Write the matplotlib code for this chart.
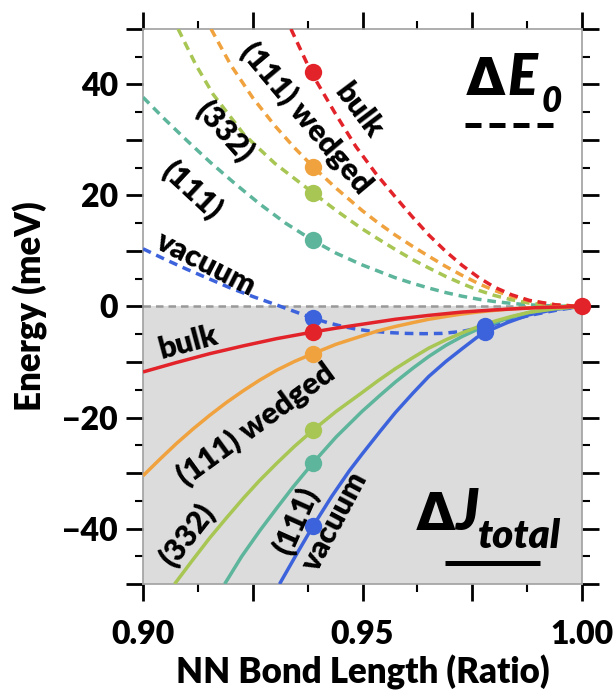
import numpy as np
import matplotlib
matplotlib.use("Agg")
import matplotlib.pyplot as plt
from matplotlib.ticker import FixedLocator, MultipleLocator, FuncFormatter

plt.rcParams['font.family'] = ['Lato', 'DejaVu Sans']
plt.rcParams['font.weight'] = 'heavy'

W = 'heavy'

# colours per surface
colors = {
    'bulk': '#e3232a',
    'wedged': '#f0a23f',
    '332': '#a8c653',
    '111': '#5db59b',
    'vacuum': '#3d63dc',
}

# --- Delta E0 curves (dashed) ---
e0_bulk_x = [0.9337, 0.9383, 0.9437, 0.9485, 0.953, 0.9574, 0.9613, 0.9652, 0.969, 0.9727,
             0.9765, 0.980, 0.984, 0.988, 0.994, 1.0]
e0_bulk_y = [50, 42.2, 34.9, 28.8, 24.0, 19.8, 16.2, 12.8, 9.9, 7.4, 5.2, 3.5, 2.1, 1.1, 0.3, 0]

e0_wedged_x = [0.9155, 0.920, 0.925, 0.930, 0.9345, 0.9387, 0.944, 0.9499, 0.9535, 0.9574,
               0.9613, 0.9652, 0.969, 0.9727, 0.9765, 0.980, 0.984, 0.988, 0.994, 1.0]
e0_wedged_y = [50, 43.5, 37.6, 32.6, 28.6, 25.2, 21.3, 17.3, 15.1, 12.9, 10.9, 9.0, 7.2, 5.6,
               4.1, 2.9, 1.8, 1.0, 0.3, 0]

e0_332_x = [0.908, 0.912, 0.916, 0.923, 0.930, 0.9387, 0.944, 0.9499, 0.9535, 0.9574, 0.9613,
            0.9652, 0.969, 0.9727, 0.9765, 0.980, 0.984, 0.988, 0.994, 1.0]
e0_332_y = [50, 43.6, 38.2, 31.0, 25.8, 20.5, 17.3, 14.0, 12.2, 10.3, 8.5, 6.9, 5.4, 4.1, 2.9,
            2.0, 1.2, 0.6, 0.15, 0]

e0_111_x = [0.900, 0.905, 0.910, 0.9153, 0.921, 0.9267, 0.9325, 0.9387, 0.944, 0.9499, 0.9574,
            0.9613, 0.9652, 0.969, 0.9727, 0.9765, 0.980, 0.984, 0.988, 0.994, 1.0]
e0_111_y = [37.7, 33.7, 29.9, 26.0, 22.1, 18.4, 15.0, 11.9, 9.6, 7.5, 5.2, 4.2, 3.3, 2.5, 1.85,
            1.3, 0.9, 0.55, 0.3, 0.08, 0]

e0_vac_x = [0.900, 0.905, 0.910, 0.915, 0.920, 0.925, 0.930, 0.9345, 0.9387, 0.942, 0.945, 0.948,
            0.9515, 0.956, 0.960, 0.964, 0.968, 0.9727, 0.978, 0.981, 0.984, 0.987, 0.990, 0.995, 1.0]
e0_vac_y = [10.4, 8.5, 6.7, 5.0, 3.3, 1.8, 0.4, -0.9, -2.1, -2.9, -3.5, -4.0, -4.4, -4.7, -4.85,
            -4.9, -4.85, -4.5, -3.6, -3.0, -2.4, -1.8, -1.3, -0.55, 0]

# --- Delta J_total curves (solid) ---
j_bulk_x = [0.900, 0.9076, 0.9152, 0.9228, 0.9304, 0.9387, 0.944, 0.9499, 0.9575, 0.9651,
            0.9727, 0.9803, 0.990, 1.0]
j_bulk_y = [-11.8, -10.1, -8.5, -7.1, -5.8, -4.6, -3.9, -3.2, -2.3, -1.6, -1.0, -0.6, -0.2, 0]

j_wedged_x = [0.900, 0.904, 0.9076, 0.9115, 0.9152, 0.919, 0.9228, 0.9265, 0.9304, 0.9345,
              0.9387, 0.944, 0.9499, 0.9535, 0.9575, 0.9615, 0.9651, 0.969, 0.9727, 0.9765,
              0.9803, 0.985, 0.990, 0.995, 1.0]
j_wedged_y = [-30.5, -27.4, -24.7, -22.0, -19.6, -17.3, -15.2, -13.3, -11.5, -9.9, -8.5, -6.8,
              -5.3, -4.4, -3.6, -2.9, -2.3, -1.8, -1.35, -0.98, -0.68, -0.38, -0.17, -0.05, 0]

j_332_x = [0.9072, 0.911, 0.9152, 0.919, 0.9228, 0.9265, 0.9304, 0.9345, 0.9387, 0.944, 0.9494,
           0.9535, 0.9575, 0.9615, 0.9651, 0.969, 0.9727, 0.9765, 0.9803, 0.984, 0.9879, 0.994, 1.0]
j_332_y = [-50.0, -46.0, -41.7, -38.1, -34.6, -31.4, -28.3, -25.2, -22.3, -18.9, -15.8, -13.4,
           -11.2, -9.2, -7.5, -6.0, -4.75, -3.6, -2.6, -1.78, -1.05, -0.4, 0]

j_111_x = [0.9186, 0.9225, 0.9266, 0.9305, 0.9342, 0.9387, 0.944, 0.9499, 0.954, 0.9575, 0.9615,
           0.9651, 0.969, 0.9727, 0.9765, 0.9803, 0.984, 0.9879, 0.994, 1.0]
j_111_y = [-50.0, -45.0, -40.4, -36.3, -32.5, -28.2, -23.5, -18.9, -16.0, -13.6, -11.1, -9.0,
           -7.0, -5.4, -4.0, -2.9, -1.9, -1.1, -0.3, 0]

j_vac_x = [0.9311, 0.935, 0.9387, 0.943, 0.947, 0.9499, 0.954, 0.9575, 0.9615, 0.9651, 0.969,
           0.9727, 0.976, 0.978, 0.983, 0.9879, 0.994, 1.0]
j_vac_y = [-50.0, -44.6, -39.6, -34.2, -29.6, -26.6, -22.5, -19.1, -15.6, -12.6, -9.9, -7.6,
           -5.6, -4.6, -2.9, -1.5, -0.5, 0]

# computed points (dots)
dot_x = 0.9387
e0_dots = {'bulk': 42.2, 'wedged': 25.2, '332': 20.5, '111': 11.9, 'vacuum': -2.1}
j_dots = {'bulk': -4.6, 'wedged': -8.5, '332': -22.3, '111': -28.2, 'vacuum': -39.6}
vac_dot2_x = 0.978
vac_dot2_y = [-3.6, -4.6]

fig = plt.figure(figsize=(6.14, 6.98), dpi=100)
ax = fig.add_axes([0.2329, 0.1633, 0.7150, 0.7952])

ax.axhspan(-50, 0, color='#dcdcdc', zorder=0, lw=0)
ax.axhline(0, color='#999999', lw=1.8, dashes=(3, 2), zorder=1)

dash = (2.5, 1.7)
lw = 2.5
e0_curves = [('111', e0_111_x, e0_111_y), ('332', e0_332_x, e0_332_y),
             ('wedged', e0_wedged_x, e0_wedged_y), ('bulk', e0_bulk_x, e0_bulk_y),
             ('vacuum', e0_vac_x, e0_vac_y)]
for key, xs, ys in e0_curves:
    ax.plot(xs, ys, color=colors[key], lw=lw, dashes=dash, zorder=3)

j_curves = [('vacuum', j_vac_x, j_vac_y), ('111', j_111_x, j_111_y),
            ('332', j_332_x, j_332_y), ('wedged', j_wedged_x, j_wedged_y),
            ('bulk', j_bulk_x, j_bulk_y)]
for key, xs, ys in j_curves:
    ax.plot(xs, ys, color=colors[key], lw=lw, solid_capstyle='butt',
            solid_joinstyle='round', zorder=4)

ms = 12.5
for key, v in e0_dots.items():
    ax.plot(dot_x, v, 'o', color=colors[key], ms=ms, mew=0, zorder=5)
for key, v in j_dots.items():
    ax.plot(dot_x, v, 'o', color=colors[key], ms=ms, mew=0, zorder=5)
for v in vac_dot2_y:
    ax.plot(vac_dot2_x, v, 'o', color=colors['vacuum'], ms=ms, mew=0, zorder=5)
ax.plot(1.0, 0, 'o', color=colors['bulk'], ms=ms, mew=0, zorder=6, clip_on=False)

# curve labels
lab = dict(fontsize=22, fontweight=W, ha='center', va='center', zorder=7)
ax.text(0.9492, 35.3, 'bulk', rotation=-53, **lab)
ax.text(0.9372, 33.9, '(111) wedged', rotation=-50, **lab)
ax.text(0.9185, 31.5, '(332)', rotation=-48, **lab)
ax.text(0.9112, 21.0, '(111)', rotation=-43, **lab)
ax.text(0.9141, 7.7, 'vacuum', rotation=-27, **lab)

ax.text(0.9103, -6.4, 'bulk', rotation=15, **lab)
ax.text(0.9257, -21.3, '(111) wedged', rotation=36, **lab)
ax.text(0.9100, -41.3, '(332)', rotation=52, **lab)
ax.text(0.9348, -38.6, '(111)', rotation=66, **lab)
ax.text(0.9437, -38.8, 'vacuum', rotation=62, **lab)

# panel keys
key = dict(transform=ax.transAxes, ha='left', va='baseline', fontweight=W, zorder=7)
delta = dict(transform=ax.transAxes, ha='left', va='baseline', family=['DejaVu Sans'],
             fontweight='bold', fontsize=37, zorder=7)
ax.text(0.736, 0.881, '\u0394', **delta)
ax.text(0.829, 0.881, 'E', fontsize=40, style='italic', **key)
ax.text(0.907, 0.851, '0', fontsize=25, style='italic', **key)
ax.plot([0.733, 0.943], [0.827, 0.827], transform=ax.transAxes, color='black',
        lw=3.6, dashes=(3.2, 1.6), solid_capstyle='butt', zorder=7)

ax.text(0.622, 0.097, '\u0394', **delta)
ax.text(0.714, 0.097, 'J', fontsize=40, style='italic', **key)
ax.text(0.762, 0.065, 'total', fontsize=29, style='italic', **key)
ax.plot([0.688, 0.904], [0.038, 0.038], transform=ax.transAxes, color='black',
        lw=3.6, solid_capstyle='butt', zorder=7)

ax.set_xlim(0.90, 1.00)
ax.set_ylim(-50, 50)

ax.xaxis.set_major_locator(FixedLocator([0.90, 0.925, 0.95, 0.975, 1.00]))
ax.xaxis.set_minor_locator(MultipleLocator(0.0125))
ax.xaxis.set_major_formatter(FuncFormatter(
    lambda v, p: f'{v:.2f}' if abs(v * 100 - round(v * 100)) < 1e-6 and round(v * 100) % 5 == 0 else ''))
ax.yaxis.set_major_locator(MultipleLocator(10))
ax.yaxis.set_minor_locator(MultipleLocator(5))
ax.yaxis.set_major_formatter(FuncFormatter(
    lambda v, p: (f'{v:.0f}'.replace('-', '\u2212')) if round(v) % 20 == 0 else ''))

ax.tick_params(which='both', direction='out', top=True, right=True, color='black')
ax.tick_params(which='major', length=12, width=2, labelsize=23)
ax.tick_params(which='minor', length=6, width=1.5)
ax.tick_params(axis='x', which='major', pad=14)
ax.tick_params(axis='y', which='major', pad=6)

for s in ax.spines.values():
    s.set_color('#a0a0a0')
    s.set_linewidth(1.2)

ax.set_xlabel('NN Bond Length (Ratio)', fontsize=25, fontweight=W, labelpad=4)
ax.set_ylabel('Energy (meV)', fontsize=25, fontweight=W, labelpad=10)

fig.savefig('out.png', dpi=100)
